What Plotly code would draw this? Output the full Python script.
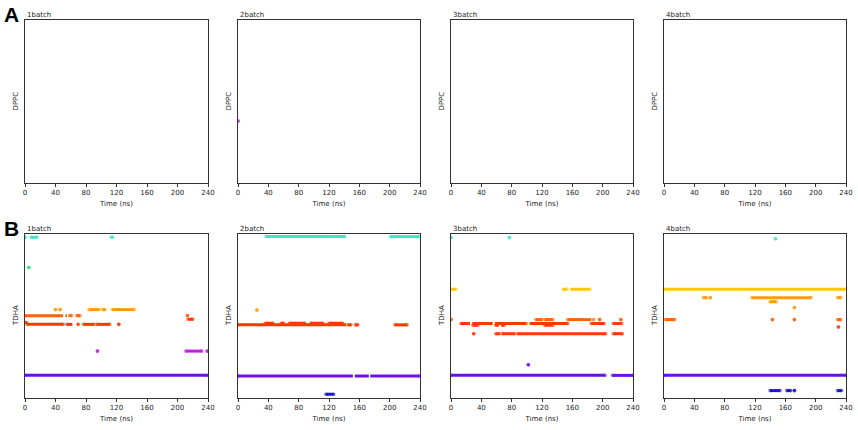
import plotly.graph_objects as go

# ---------------- data ----------------
TIME_TICKS = [0, 40, 80, 120, 160, 200, 240]
BATCHES = ["1batch", "2batch", "3batch", "4batch"]
ROW_LABEL_A = "DPPC"
ROW_LABEL_B = "TDHA"

COLORS = {
    "cyan": "#3ee6c4",
    "green": "#1ee67e",
    "yellow": "#ffc800",
    "orange": "#ff9a10",
    "orangered": "#ff6400",
    "red": "#ff3600",
    "magenta": "#c21ce6",
    "purple": "#6a10ee",
    "blue": "#1a14c8",
}

# each row: (site position, colour key, [(start ns, end ns), ...])
A1_rows = []
A2_rows = [(38, "magenta", [(0, 0)])]
A3_rows = []
A4_rows = []

B1_rows = [
    (98, "cyan", [(0, 0), (8, 16), (113, 115)]),
    (79.6, "green", [(5, 5)]),
    (53.9, "orange", [(40, 40), (46, 46), (84, 97), (102, 105), (115, 143)]),
    (50.2, "orangered", [(0, 50), (53, 55), (57, 61), (68, 72), (213, 213)]),
    (48, "red", [(214, 220)]),
    (46, "red", [(0, 2)]),
    (44.9, "red", [(3, 50), (55, 62), (65, 65), (68, 70), (77, 90), (94, 111), (123, 123)]),
    (28.6, "magenta", [(95, 95), (211, 232), (239, 239)]),
    (13.9, "purple", [(0, 240)]),
]

B2_rows = [
    (98.4, "cyan", [(37, 141), (201, 239)]),
    (53.6, "orange", [(25, 25)]),
    (45.6, "red", [(36, 46), (57, 60), (68, 88), (96, 112), (120, 138)]),
    (44.6, "red", [(0, 143), (144, 149), (155, 158), (207, 223)]),
    (13.4, "purple", [(0, 151.5), (154, 172.5), (174.5, 239)]),
    (2.3, "blue", [(116, 126)]),
]

B3_rows = [
    (97.9, "cyan", [(0, 0), (77, 77)]),
    (66.3, "yellow", [(0, 6), (148, 153), (159, 183)]),
    (47.8, "orangered", [(0, 0), (112, 120), (124, 134), (154, 185), (188, 188), (196, 196), (224, 224)]),
    (45.4, "red", [(13, 25), (28, 55), (58, 99), (105, 154), (185, 202), (214, 225)]),
    (44.4, "red", [(29, 35), (59, 63), (66, 70), (124, 134)]),
    (39.2, "red", [(30, 30), (59, 64), (68, 84), (88, 204), (214, 226)]),
    (20.3, "purple", [(102, 102)]),
    (13.8, "purple", [(0, 203), (213, 240)]),
]

B4_rows = [
    (97.1, "cyan", [(147, 147)]),
    (66.3, "yellow", [(0, 240)]),
    (61.2, "orange", [(52, 56), (61, 61), (116, 194), (229, 233)]),
    (58.7, "orange", [(140, 148)]),
    (55.2, "orange", [(172, 172)]),
    (47.8, "orangered", [(2, 14), (143, 143), (172, 172), (229, 233)]),
    (43.3, "red", [(230, 230)]),
    (13.8, "purple", [(0, 240)]),
    (4.5, "blue", [(140, 153), (162, 167), (172, 172), (229, 234)]),
]

PANEL_ROWS = [A1_rows, A2_rows, A3_rows, A4_rows, B1_rows, B2_rows, B3_rows, B4_rows]

# ---------------- layout geometry ----------------
W, H = 858, 430
X_PIX = [(25, 208), (238, 420), (451, 633), (664, 846)]
Y_PIX = [(20, 183), (234, 398)]  # top, bottom in pixels
FS = 7
DOT = 3.6

fig = go.Figure()
layout = dict(
    width=W, height=H,
    margin=dict(l=0, r=0, t=0, b=0, pad=0),
    paper_bgcolor="white", plot_bgcolor="white",
    showlegend=False,
    font=dict(family="DejaVu Sans", size=FS, color="#222"),
)
annotations = []

for idx, rows in enumerate(PANEL_ROWS):
    r, c = divmod(idx, 4)
    n = idx + 1
    xa = "x" if n == 1 else f"x{n}"
    ya = "y" if n == 1 else f"y{n}"
    x0, x1 = X_PIX[c]
    top, bot = Y_PIX[r]
    xd = [x0 / W, x1 / W]
    yd = [1 - bot / H, 1 - top / H]
    layout[f"xaxis{'' if n == 1 else n}"] = dict(
        domain=xd, anchor=ya, range=[0, 240], tickvals=TIME_TICKS, automargin=False,
        showgrid=False, zeroline=False, showline=True, linecolor="#333", linewidth=1,
        mirror=True, ticks="outside", ticklen=2.5, tickcolor="#333",
        tickfont=dict(size=FS, color="#222"),
        title=dict(text="Time (ns)", font=dict(size=FS, color="#222"), standoff=5),
    )
    layout[f"yaxis{'' if n == 1 else n}"] = dict(
        domain=yd, anchor=xa, range=[0, 100], showticklabels=False, ticks="", automargin=False,
        showgrid=False, zeroline=False, showline=True, linecolor="#333", linewidth=1,
        mirror=True,
    )
    # panel title
    annotations.append(dict(
        text=BATCHES[c], xref="paper", yref="paper", x=xd[0], y=yd[1],
        xanchor="left", yanchor="bottom", showarrow=False, yshift=-1,
        font=dict(size=FS, color="#222"),
    ))
    # y label
    annotations.append(dict(
        text=ROW_LABEL_A if r == 0 else ROW_LABEL_B, xref="paper", yref="paper",
        x=xd[0], y=(yd[0] + yd[1]) / 2, xanchor="right", yanchor="middle",
        xshift=-3, textangle=-90, showarrow=False, font=dict(size=FS, color="#222"),
    ))
    # placeholder so that empty panels still show their axes
    fig.add_trace(go.Scatter(x=[None], y=[None], mode="markers", xaxis=xa, yaxis=ya,
                             hoverinfo="skip"))
    for (yv, ck, segs) in rows:
        xs, ys, sz = [], [], []
        for k, (s, e) in enumerate(segs):
            prev_gap = s - segs[k - 1][1] if k > 0 else 99
            next_gap = segs[k + 1][0] - e if k + 1 < len(segs) else 99
            xs += [s, e, None]
            ys += [yv, yv, None]
            sz += [DOT if prev_gap >= 4 else 0, DOT if next_gap >= 4 else 0, 0]
        fig.add_trace(go.Scatter(
            x=xs, y=ys, mode="lines+markers", xaxis=xa, yaxis=ya,
            line=dict(color=COLORS[ck], width=3),
            marker=dict(color=COLORS[ck], size=sz, line=dict(width=0)),
            hoverinfo="skip", cliponaxis=True,
        ))

annotations.append(dict(text="<b>A</b>", xref="paper", yref="paper", x=2 / W, y=1 - 1 / H,
                        xanchor="left", yanchor="top", showarrow=False,
                        font=dict(size=21, color="black", family="Liberation Sans")))
annotations.append(dict(text="<b>B</b>", xref="paper", yref="paper", x=2 / W, y=1 - 215 / H,
                        xanchor="left", yanchor="top", showarrow=False,
                        font=dict(size=21, color="black", family="Liberation Sans")))
layout["annotations"] = annotations
fig.update_layout(**layout)
fig.write_html("out.html", config={"displayModeBar": False},
               post_script="document.body.style.margin='0';document.body.style.overflow='hidden';")
